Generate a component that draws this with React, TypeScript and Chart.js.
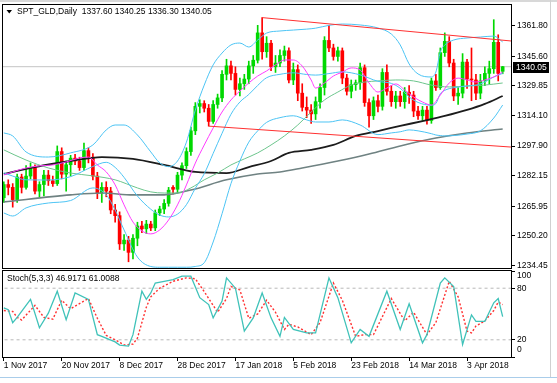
import React, { useEffect, useRef } from "react";
import { Chart, registerables } from "chart.js";

Chart.register(...registerables);

const FONT = "'Liberation Sans', Arial, sans-serif";
const BULL = "#00d800";
const BEAR = "#ff0000";

// ---- Candles (daily bars, index 0 = 1 Nov 2017) ----
const opens = [
  1270.5, 1277.5, 1276, 1269.5, 1281.5, 1276, 1282, 1286.5, 1274, 1277.5,
  1282.5, 1279.5, 1278, 1295, 1283, 1288, 1291.5, 1290, 1286.5, 1295.5,
  1292, 1282, 1273, 1276, 1274, 1264, 1261, 1246, 1248, 1241.5,
  1249, 1255.5, 1254, 1256.5, 1254.5, 1262.5, 1264.5, 1267.5, 1276, 1275,
  1282.5, 1287.5, 1295, 1306, 1319, 1320.5, 1318, 1311, 1320, 1323.5,
  1336, 1340.5, 1336.5, 1328, 1331, 1333.5, 1340.5, 1343.5, 1358, 1348,
  1352.5, 1340, 1342, 1346, 1348.5, 1333, 1338.5, 1326, 1318.5, 1317,
  1315, 1321.5, 1329, 1354, 1350, 1345.5, 1348.5, 1334, 1327, 1330.5,
  1331.5, 1339.5, 1321, 1314, 1322, 1319, 1337, 1327, 1321.5, 1324.5,
  1321.5, 1326.5, 1325, 1316.5, 1314, 1317, 1311.5, 1332.5, 1329, 1347.5,
  1353.5, 1342, 1324.5, 1326, 1342.5, 1333.5, 1333, 1326, 1332.5, 1336.5,
  1339, 1353, 1337.6,
];
const highs = [
  1279, 1280, 1278, 1283, 1283, 1287.5, 1289, 1288, 1279, 1285,
  1285, 1282, 1298, 1297, 1290, 1293, 1293.5, 1292, 1299.5, 1297,
  1294, 1284, 1278.5, 1279, 1276, 1267, 1263, 1251, 1250, 1251,
  1257.5, 1258, 1258.5, 1258, 1264, 1266, 1269.5, 1276, 1277, 1284,
  1289, 1297, 1308, 1321, 1322.5, 1322, 1320, 1322, 1325.5, 1338,
  1344, 1343, 1340, 1334, 1336, 1343, 1346, 1362, 1366.1, 1356,
  1354, 1346, 1349, 1351, 1350, 1342, 1341, 1331, 1324, 1320,
  1324, 1331, 1356, 1362, 1352, 1350.5, 1350, 1336, 1333, 1333,
  1342, 1341, 1323, 1324, 1325, 1339, 1341, 1330, 1327, 1327,
  1329, 1330, 1327, 1319, 1319, 1319, 1334, 1336, 1350, 1358,
  1356, 1344, 1329, 1347, 1344, 1350, 1336, 1336, 1340, 1343,
  1365, 1357, 1340.25,
];
const lows = [
  1268, 1272, 1265.5, 1268, 1273, 1275, 1280.5, 1272.5, 1271, 1271.5,
  1277, 1276.5, 1277, 1280.5, 1274, 1282, 1288, 1285, 1285, 1289,
  1280, 1270, 1268, 1271, 1262, 1257.5, 1243, 1242.5, 1236.5, 1238,
  1245, 1252, 1251.5, 1253, 1253, 1261, 1262, 1266, 1272.5, 1273,
  1280, 1286, 1293, 1304, 1315.5, 1316, 1308.5, 1310, 1318, 1321.5,
  1333, 1333, 1325, 1324.5, 1328, 1331, 1336.5, 1342, 1344, 1345,
  1338, 1337, 1340, 1343, 1331.5, 1330.5, 1322, 1316.5, 1313, 1310,
  1312, 1318, 1325, 1348, 1343.5, 1343, 1331, 1325, 1323.5, 1327.5,
  1328, 1319, 1308, 1312, 1316, 1317, 1325, 1319, 1318, 1319,
  1318, 1320.5, 1313.5, 1312, 1311.5, 1309.5, 1310, 1327.5, 1328, 1345.5,
  1340, 1322, 1320, 1323.5, 1328.5, 1322, 1322.5, 1323, 1330, 1331,
  1336.5, 1332.5, 1336.3,
];
const closes = [
  1277.5, 1276, 1269.5, 1281.5, 1276, 1282, 1286.5, 1274, 1277.5, 1282.5,
  1279.5, 1278, 1295, 1283, 1288, 1291.5, 1290, 1286.5, 1295.5, 1292,
  1282, 1273, 1276, 1274, 1264, 1261, 1246, 1248, 1241.5, 1249,
  1255.5, 1254, 1256.5, 1254.5, 1262.5, 1264.5, 1267.5, 1274.5, 1275, 1282.5,
  1287.5, 1295, 1306, 1319, 1320.5, 1318, 1311, 1320, 1323.5, 1336,
  1340.5, 1336.5, 1328, 1331, 1333.5, 1340.5, 1343.5, 1358, 1348, 1352.5,
  1340, 1342, 1346, 1348.5, 1333, 1338.5, 1326, 1318.5, 1317, 1315,
  1321.5, 1329, 1354, 1350, 1345.5, 1348.5, 1334, 1327, 1330.5, 1331.5,
  1339.5, 1321, 1314, 1322, 1319, 1337, 1327, 1321.5, 1324.5, 1321.5,
  1326.5, 1325, 1316.5, 1314, 1317, 1311.5, 1332.5, 1329, 1347.5, 1353.5,
  1342, 1324.5, 1326, 1342.5, 1333.5, 1333, 1326, 1332.5, 1336.5, 1339,
  1353, 1336.5, 1340.05,
];

// ---- Axis ticks ----
const priceTicks = [1361.8, 1345.6, 1329.85, 1314.1, 1297.9, 1282.15, 1265.95, 1250.2, 1234.45];
const dateTickBars = [0, 13, 26, 39, 52, 65, 78, 91, 104];
const dateLabels = [
  "1 Nov 2017", "20 Nov 2017", "8 Dec 2017", "28 Dec 2017", "17 Jan 2018",
  "5 Feb 2018", "23 Feb 2018", "14 Mar 2018", "3 Apr 2018",
];
const stochTicks = [100, 80, 20, 0];
const stochLevels = [20, 80];

// ---- Indicator lines: [bar, value] ----
const bbUpper = [
  [0, 1304.9], [2, 1303.3], [5, 1294.8], [10, 1292.1], [15, 1294.3], [20, 1298.5], [23, 1306.5],
  [25, 1309.1], [27, 1309.1], [30, 1303.8], [33, 1294.8], [35, 1289], [37, 1287], [39, 1290],
  [41, 1300], [43, 1317], [45, 1330.3], [47, 1341], [49, 1347.3], [51, 1351.6], [53, 1352.6],
  [55, 1350.5], [57, 1354.2], [59, 1357.9], [62, 1359], [65, 1359.5], [68, 1360], [70, 1360.5],
  [73, 1362], [76, 1362.7], [80, 1362.2], [84, 1360.6], [87, 1357.4], [89, 1351.6], [91, 1341.5],
  [93, 1336.2], [96, 1334.6], [97, 1337.2], [98, 1347.8], [99, 1351.6], [101, 1354.2],
  [104, 1355.3], [107, 1355.8], [110, 1356.3], [112, 1353.2],
];
const bbMiddle = [
  [0, 1283.7], [2, 1282], [5, 1280], [10, 1279.9], [15, 1281.7], [20, 1287.1], [23, 1289.3],
  [25, 1286.6], [27, 1281.3], [30, 1271.4], [33, 1264.4], [35, 1261.3], [37, 1260.3], [39, 1261.8],
  [41, 1266.8], [43, 1275.5], [45, 1283.2], [47, 1294], [49, 1304.7], [51, 1314.8], [53, 1321.3],
  [55, 1325.3], [57, 1330.1], [59, 1334.2], [62, 1336], [65, 1336.8], [68, 1335.9], [70, 1335.6],
  [73, 1336.4], [76, 1337.3], [80, 1335.7], [84, 1332.3], [87, 1331.2], [89, 1328.6], [91, 1324],
  [93, 1321.1], [96, 1319.6], [97, 1320.5], [98, 1325.7], [99, 1327.5], [101, 1328.9],
  [104, 1329.8], [107, 1330.9], [110, 1334.6], [112, 1336.5],
];
const bbLower = [
  [0, 1262.4], [2, 1260.8], [5, 1265.1], [10, 1267.7], [15, 1269], [20, 1275.7], [23, 1272],
  [25, 1264], [27, 1253.4], [30, 1239], [33, 1234], [35, 1233.6], [37, 1233.6], [39, 1233.6],
  [41, 1233.6], [43, 1234], [45, 1236], [47, 1247], [49, 1262], [51, 1278], [53, 1290],
  [55, 1300], [57, 1306], [59, 1310.5], [62, 1313], [65, 1314], [68, 1311.8], [70, 1310.7],
  [73, 1310.7], [76, 1311.8], [80, 1309.1], [84, 1304], [87, 1304.9], [89, 1305.5], [91, 1306.5],
  [93, 1306], [96, 1304.5], [97, 1303.8], [98, 1303.5], [99, 1303.3], [101, 1303.5],
  [104, 1304.3], [107, 1306], [110, 1312.8], [112, 1319.7],
];
const fastMA = [
  [0, 1282.6], [2, 1284.2], [5, 1286.3], [8, 1287.4], [11, 1287.9], [14, 1289.5], [17, 1291.6],
  [19, 1292.1], [21, 1287.9], [23, 1284.2], [25, 1277.3], [27, 1266.7], [29, 1257.6], [31, 1252.9],
  [33, 1251.3], [35, 1253.4], [37, 1258.7], [39, 1266.7], [41, 1277.3], [43, 1288.9], [45, 1298.5],
  [47, 1307.5], [49, 1316], [51, 1322.4], [53, 1327.1], [55, 1331.4], [57, 1335.1], [59, 1337.8],
  [61, 1341], [63, 1343.6], [65, 1343.6], [67, 1340.4], [69, 1333], [70, 1328.7], [72, 1331.4],
  [74, 1335.1], [76, 1337.2], [78, 1339.4], [80, 1338.3], [82, 1331.4], [84, 1326.6], [86, 1328.7],
  [88, 1330.9], [90, 1327.7], [92, 1324], [94, 1321.3], [96, 1319.7], [98, 1325], [100, 1331.4],
  [102, 1334], [104, 1333], [106, 1331.9], [108, 1333], [110, 1334.6], [112, 1337.2],
];
const ma50 = [
  [0, 1295.9], [5, 1290.5], [10, 1286.3], [15, 1283.6], [20, 1282.1], [25, 1280], [30, 1275.7],
  [33, 1273.6], [36, 1273], [39, 1273], [42, 1275.7], [45, 1280], [48, 1283.6], [51, 1287.9],
  [54, 1291.1], [57, 1294.3], [60, 1298.5], [63, 1303.3], [66, 1309.1], [69, 1316], [72, 1322.4],
  [75, 1326.6], [78, 1330.3], [81, 1331.9], [84, 1332.5], [88, 1333], [92, 1332.5], [96, 1330.3],
  [100, 1329.3], [104, 1329.8], [108, 1330.3], [112, 1331.4],
];
const ma100 = [
  [0, 1283.1], [7, 1286.8], [15, 1290], [22, 1292.1], [29, 1291.1], [36, 1287.9], [43, 1284.2],
  [50, 1283.6], [55, 1286.8], [60, 1290], [64, 1294.3], [69, 1295.9], [74, 1298.5], [79, 1303.3],
  [84, 1305.9], [89, 1308.6], [94, 1311.2], [99, 1313.9], [104, 1317.1], [108, 1320.3], [112, 1324.5],
];
const ma200 = [
  [0, 1268.3], [15, 1272], [22, 1273], [29, 1272], [36, 1272], [42, 1274.6], [50, 1280],
  [57, 1283.1], [62, 1284.2], [67, 1286.3], [75, 1290], [82, 1293.7], [89, 1298], [97, 1302.2],
  [104, 1304.9], [112, 1307],
];
const upperTrend = [[58, 1366.1], [113.87, 1353.7]];
const lowerTrend = [[46, 1308.5], [113.87, 1297.4]];

// ---- Stochastic (5,3,3) ----
const stochMain = [
  [0, 57], [1, 55], [2, 40], [3, 46], [6, 67], [8, 34], [10, 51], [12, 76.5], [14, 43.5], [16, 74.5],
  [19, 67], [21, 26], [22, 24], [25, 17.6], [26, 13.8], [28, 12.6], [29, 26], [31, 76.5], [32, 67],
  [33, 74.5], [34, 86], [36, 88], [38, 90], [40, 94], [42, 94], [44, 69], [46, 61], [47, 45.5],
  [49, 65], [50, 92], [52, 80], [54, 30], [56, 45.5], [58, 74.5], [60, 45.5], [62, 24], [63, 46],
  [65, 32], [68, 28], [70, 28], [73, 92], [75, 69], [78, 16.5], [80, 32], [82, 24], [86, 76.5],
  [89, 32], [91, 62], [94, 16.5], [95, 26], [98, 86], [99, 92], [101, 82], [103, 14.5], [105, 49],
  [106, 41.5], [108, 41.5], [110, 63], [111, 68], [112, 46.9171],
];
const stochSignal = [
  [0, 54], [2, 53], [3, 46], [4, 43], [7, 60], [9, 46], [11, 44], [13, 66], [15, 56], [17, 62],
  [19, 68], [21, 45], [23, 25], [25, 20], [27, 14], [29, 15], [30, 22], [32, 58], [33, 70], [35, 80],
  [38, 88], [41, 92], [43, 91], [45, 76], [47, 60], [48, 52], [50, 68], [51, 82], [53, 78], [55, 45],
  [57, 50], [59, 66], [61, 52], [63, 32], [64, 38], [66, 35], [69, 26], [71, 40], [74, 86], [76, 66],
  [79, 24], [81, 26], [83, 26], [87, 68], [90, 42], [92, 52], [95, 26], [97, 40], [100, 88], [102, 70],
  [104, 30], [105, 28], [106, 36], [108, 42], [110, 54], [111, 64], [112, 61.0088],
];

const X_MIN = -0.18;
const X_MAX = 113.87;
const Y_MIN = 1233.2;
const Y_MAX = 1372.8;

const xy = (pts: number[][]) => pts.map(([x, y]) => ({ x, y }));

function lineDs(pts: number[][], color: string, width: number, order: number, extra: any = {}) {
  return {
    type: "line",
    data: xy(pts),
    borderColor: color,
    borderWidth: width,
    pointRadius: 0,
    pointHoverRadius: 0,
    fill: false,
    cubicInterpolationMode: "monotone",
    order,
    ...extra,
  };
}

const f2 = (v: number) => v.toFixed(2);

export default function App() {
  const mainRef = useRef<HTMLCanvasElement | null>(null);
  const stochRef = useRef<HTMLCanvasElement | null>(null);

  useEffect(() => {
    document.body.style.margin = "0";
    const last = closes.length - 1;
    const lastClose = closes[last];
    const colors = closes.map((c, i) => (c >= opens[i] ? BULL : BEAR));
    const bodies = closes.map((c, i) => ({ x: i, y: [opens[i], c] }));
    const wicks = closes.map((c, i) => ({ x: i, y: [lows[i], highs[i]] }));
    const title = `SPT_GLD,Daily  ${f2(opens[last])} ${f2(highs[last])} ${f2(lows[last])} ${f2(lastClose)}`;
    const stochTitle = `Stoch(5,3,3) ${stochMain[stochMain.length - 1][1].toFixed(4)} ${stochSignal[stochSignal.length - 1][1].toFixed(4)}`;

    const mainDecor = {
      id: "mainDecor",
      afterDraw(chart: any) {
        const { ctx, chartArea: a, scales } = chart;
        ctx.save();
        ctx.strokeStyle = "#000";
        ctx.lineWidth = 1;
        ctx.strokeRect(a.left - 0.5, a.top - 0.5, a.right - a.left + 1, a.bottom - a.top + 1);
        ctx.fillStyle = "#000";
        ctx.beginPath();
        ctx.moveTo(6.5, 10);
        ctx.lineTo(12, 10);
        ctx.lineTo(9.25, 13.5);
        ctx.closePath();
        ctx.fill();
        ctx.font = `8.5px ${FONT}`;
        ctx.textBaseline = "middle";
        ctx.textAlign = "left";
        ctx.fillText(title, 17, 12);
        const y = scales.y.getPixelForValue(lastClose);
        ctx.fillStyle = "#000";
        ctx.fillRect(a.right + 2, Math.round(y) - 5, 36, 11);
        ctx.fillStyle = "#fff";
        ctx.fillText(f2(lastClose), a.right + 5, Math.round(y) + 0.5);
        ctx.restore();
      },
    };

    const stochDecor = {
      id: "stochDecor",
      afterDraw(chart: any) {
        const { ctx, chartArea: a, scales } = chart;
        ctx.save();
        ctx.strokeStyle = "#000";
        ctx.lineWidth = 1;
        ctx.strokeRect(a.left - 0.5, a.top - 0.5, a.right - a.left + 1, a.bottom - a.top + 1);
        ctx.fillStyle = "#000";
        ctx.font = `8.5px ${FONT}`;
        ctx.textBaseline = "middle";
        ctx.textAlign = "left";
        ctx.fillText(stochTitle, 7, a.top + 7.5);
        stochTicks.forEach((v) => {
          let y = scales.y.getPixelForValue(v);
          y = Math.min(Math.max(y, a.top + 5), a.bottom - 7);
          ctx.fillText(String(v), a.right + 6, y);
        });
        ctx.restore();
      },
    };

    const main = new Chart(mainRef.current as HTMLCanvasElement, {
      type: "bar",
      data: {
        datasets: [
          lineDs([[X_MIN - 1, lastClose], [X_MAX + 1, lastClose]], "#c4c4c4", 1, 40, { cubicInterpolationMode: "default", tension: 0 }),
          { type: "bar", data: wicks, backgroundColor: colors, barThickness: 1, grouped: false, order: 30 },
          { type: "bar", data: bodies, backgroundColor: colors, barThickness: 3, grouped: false, minBarLength: 1, order: 29 },
          lineDs(ma200, "#6f8282", 1.6, 10),
          lineDs(ma100, "#1c1c1c", 1.8, 9),
          lineDs(ma50, "#6cc58c", 1, 8),
          lineDs(bbLower, "#4cc4f4", 1, 7),
          lineDs(bbMiddle, "#4cc4f4", 1, 6),
          lineDs(bbUpper, "#4cc4f4", 1, 5),
          lineDs(fastMA, "#ff3cff", 1, 4),
          lineDs(upperTrend, "#ff3030", 1, 1, { cubicInterpolationMode: "default", tension: 0 }),
          lineDs(lowerTrend, "#ff3030", 1, 1, { cubicInterpolationMode: "default", tension: 0 }),
        ],
      },
      options: {
        responsive: false,
        animation: false,
        devicePixelRatio: 1,
        events: [],
        layout: { padding: { left: 3, top: 5, right: 0, bottom: 2 } },
        plugins: { legend: { display: false }, tooltip: { enabled: false } },
        scales: {
          x: { type: "linear", min: X_MIN, max: X_MAX, offset: false, display: false },
          y: {
            type: "linear",
            position: "right",
            min: Y_MIN,
            max: Y_MAX,
            afterFit(s: any) {
              s.width = 46;
              s.paddingTop = 0;
              s.paddingBottom = 0;
            },
            afterBuildTicks(s: any) {
              s.ticks = priceTicks.map((v) => ({ value: v }));
            },
            ticks: {
              autoSkip: false,
              padding: 2,
              color: "#000",
              font: { family: FONT, size: 8.5 },
              callback: (v: any) => Number(v).toFixed(2),
            },
            grid: { drawOnChartArea: false, drawTicks: true, tickLength: 4, color: "#000" },
            border: { display: false },
          },
        },
      },
      plugins: [mainDecor],
    } as any);

    const stoch = new Chart(stochRef.current as HTMLCanvasElement, {
      type: "line",
      data: {
        datasets: [
          ...stochLevels.map((lv) =>
            lineDs([[X_MIN - 1, lv], [X_MAX + 1, lv]], "#b8b8b8", 1, 10, { borderDash: [3, 3], cubicInterpolationMode: "default", tension: 0 })
          ),
          lineDs(stochSignal, "#ff3030", 1.4, 2, { borderDash: [2, 2], cubicInterpolationMode: "default", tension: 0 }),
          lineDs(stochMain, "#3fc2b9", 1.3, 1, { cubicInterpolationMode: "default", tension: 0 }),
        ],
      },
      options: {
        responsive: false,
        animation: false,
        devicePixelRatio: 1,
        events: [],
        layout: { padding: { left: 3, top: 3, right: 0, bottom: 0 } },
        plugins: { legend: { display: false }, tooltip: { enabled: false } },
        scales: {
          x: {
            type: "linear",
            position: "bottom",
            min: X_MIN,
            max: X_MAX,
            offset: false,
            afterFit(s: any) {
              s.height = 26;
              s.paddingLeft = 0;
              s.paddingRight = 0;
            },
            afterBuildTicks(s: any) {
              s.ticks = dateTickBars.map((v) => ({ value: v }));
            },
            ticks: {
              autoSkip: false,
              maxRotation: 0,
              minRotation: 0,
              align: "start",
              padding: 0,
              color: "#000",
              font: { family: FONT, size: 8.5 },
              callback: (_v: any, i: number) => dateLabels[i],
            },
            grid: { drawOnChartArea: false, drawTicks: true, tickLength: 4, color: "#000" },
            border: { display: false },
          },
          y: {
            type: "linear",
            position: "right",
            min: 0,
            max: 100,
            afterFit(s: any) {
              s.width = 46;
              s.paddingTop = 0;
              s.paddingBottom = 0;
            },
            afterBuildTicks(s: any) {
              s.ticks = stochTicks.map((v) => ({ value: v }));
            },
            ticks: { display: false },
            grid: { drawOnChartArea: false, drawTicks: true, tickLength: 4, color: "#000" },
            border: { display: false },
          },
        },
      },
      plugins: [stochDecor],
    } as any);

    return () => {
      main.destroy();
      stoch.destroy();
    };
  }, []);

  return (
    <div style={{ position: "fixed", left: 0, top: 0, width: 557, height: 383, background: "#fff", overflow: "hidden" }}>
      <div style={{ position: "absolute", left: 0, top: 0, width: 557, height: 2, background: "#d8d8d8" }} />
      <canvas ref={mainRef} width={557} height={270} style={{ position: "absolute", left: 0, top: 0 }} />
      <canvas ref={stochRef} width={557} height={115} style={{ position: "absolute", left: 0, top: 268 }} />
      <div style={{ position: "absolute", left: 550, top: 0, width: 1, height: 377, background: "#d0d0d0" }} />
      <div style={{ position: "absolute", left: 0, top: 377, width: 557, height: 1, background: "#a9cdea" }} />
    </div>
  );
}
